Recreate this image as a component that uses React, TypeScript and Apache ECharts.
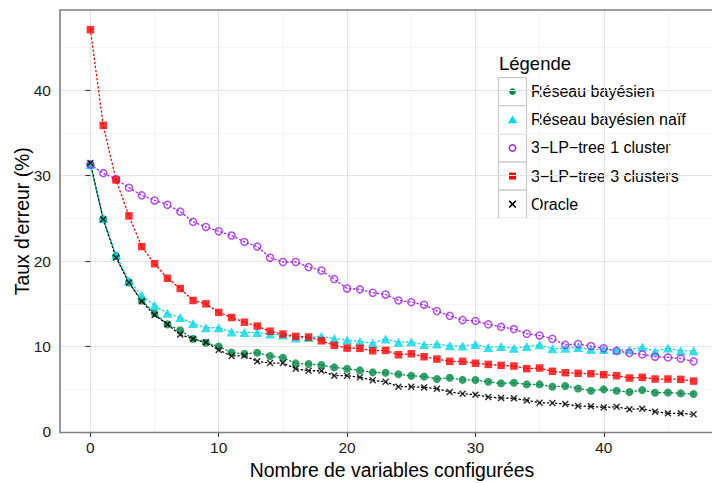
import React, { useEffect, useRef } from 'react';
import * as echarts from 'echarts';

const xValues = [0, 1, 2, 3, 4, 5, 6, 7, 8, 9, 10, 11, 12, 13, 14, 15, 16, 17, 18, 19, 20, 21, 22, 23, 24, 25, 26, 27, 28, 29, 30, 31, 32, 33, 34, 35, 36, 37, 38, 39, 40, 41, 42, 43, 44, 45, 46, 47];

const reseauBayesien = [31.3, 24.9, 20.6, 17.5, 15.4, 13.9, 12.6, 11.9, 10.9, 10.45, 10.0, 9.3, 9.15, 9.28, 8.9, 8.7, 8.03, 7.95, 7.84, 7.56, 7.41, 7.21, 6.98, 6.94, 6.75, 6.59, 6.5, 6.2, 6.35, 6.1, 6.09, 5.88, 5.69, 5.77, 5.57, 5.57, 5.3, 5.38, 5.1, 4.83, 4.99, 4.83, 4.68, 4.9, 4.6, 4.62, 4.52, 4.44];
const reseauNaif = [31.3, 25.0, 20.7, 17.7, 16.0, 14.8, 13.9, 13.4, 12.7, 12.2, 12.2, 11.7, 11.65, 11.66, 11.46, 11.35, 11.0, 11.07, 11.2, 10.95, 10.76, 10.6, 10.4, 10.9, 10.5, 10.56, 10.2, 10.3, 10.1, 10.06, 10.25, 9.9, 10.0, 9.8, 10.0, 10.2, 9.75, 9.8, 9.9, 9.67, 9.67, 9.6, 9.6, 9.94, 9.43, 9.82, 9.5, 9.5];
const lpTree1 = [31.3, 30.3, 29.6, 28.6, 27.7, 27.1, 26.6, 25.8, 24.6, 24.0, 23.5, 23.0, 22.25, 21.7, 20.4, 19.9, 19.9, 19.3, 18.9, 17.9, 16.8, 16.7, 16.3, 16.1, 15.4, 15.2, 14.9, 14.15, 13.6, 13.1, 13.0, 12.6, 12.3, 12.05, 11.5, 11.3, 10.9, 10.2, 10.3, 10.06, 9.8, 9.5, 9.24, 9.08, 8.81, 8.73, 8.6, 8.27];
const lpTree3 = [47.1, 35.9, 29.5, 25.3, 21.7, 19.7, 18.0, 16.8, 15.4, 15.0, 14.0, 13.4, 12.85, 12.4, 11.8, 11.46, 11.19, 11.11, 10.68, 10.14, 9.82, 9.79, 9.51, 9.55, 9.04, 9.16, 8.81, 8.54, 8.27, 8.27, 8.05, 7.91, 7.8, 7.72, 7.41, 7.49, 7.1, 6.94, 6.87, 6.83, 6.71, 6.59, 6.32, 6.4, 6.2, 6.2, 6.16, 5.96];
const oracle = [31.5, 24.9, 20.4, 17.5, 15.3, 13.7, 12.6, 11.4, 10.9, 10.5, 9.6, 8.9, 8.92, 8.27, 8.07, 8.07, 7.41, 7.17, 7.17, 6.59, 6.59, 6.4, 6.05, 5.88, 5.3, 5.3, 5.22, 5.07, 4.68, 4.48, 4.37, 4.09, 3.98, 3.94, 3.7, 3.43, 3.4, 3.27, 3.04, 3.0, 2.88, 2.96, 2.65, 2.73, 2.38, 2.18, 2.18, 2.07];

const xTicks = [0, 10, 20, 30, 40];
const yTicks = [0, 10, 20, 30, 40];

const seriesNames = ['Réseau bayésien', 'Réseau bayésien naïf', '3\u2212LP\u2212tree 1 cluster', '3\u2212LP\u2212tree 3 clusters', 'Oracle'];
const seriesValues = [reseauBayesien, reseauNaif, lpTree1, lpTree3, oracle];
const seriesColors = ['#008B45', '#00D8E4', '#A020F0', '#FF0000', '#000000'];

const FONT = 'Liberation Sans, Arial, Helvetica, sans-serif';
const CROSS = 'path://M0,1.5L1.5,0L5,3.5L8.5,0L10,1.5L6.5,5L10,8.5L8.5,10L5,6.5L1.5,10L0,8.5L3.5,5Z';

// The reference panel runs past the right edge of the 712px picture (cropped),
// so the chart canvas is a little wider than the visible window.
const CANVAS_W = 724;
const CANVAS_H = 483;
const GRID = { left: 60, top: 10, right: 0, bottom: 50.5 };

function pointStyle(i: number) {
  const c = seriesColors[i];
  switch (i) {
    case 0: return { symbol: 'circle', symbolSize: 8, itemStyle: { color: c } };
    case 1: return { symbol: 'triangle', symbolSize: [10, 9], itemStyle: { color: c } };
    case 2: return { symbol: 'circle', symbolSize: 7, itemStyle: { color: 'rgba(0,0,0,0)', borderColor: c, borderWidth: 1.5 } };
    case 3: return { symbol: 'rect', symbolSize: 7.5, itemStyle: { color: c } };
    default: return { symbol: CROSS, symbolSize: 7, itemStyle: { color: c } };
  }
}

function legendSymbol(i: number, cx: number, cy: number): any[] {
  const c = seriesColors[i];
  switch (i) {
    case 0: return [{ type: 'circle', shape: { cx, cy, r: 3.4 }, style: { fill: c } }];
    case 1: return [{ type: 'polygon', shape: { points: [[cx, cy - 4.2], [cx + 4.6, cy + 3.6], [cx - 4.6, cy + 3.6]] }, style: { fill: c } }];
    case 2: return [{ type: 'circle', shape: { cx, cy, r: 3.2 }, style: { fill: 'none', stroke: c, lineWidth: 1.5 } }];
    case 3: return [{ type: 'rect', shape: { x: cx - 3.5, y: cy - 3.5, width: 7, height: 7 }, style: { fill: c } }];
    default: return [
      { type: 'line', shape: { x1: cx - 3.3, y1: cy - 3.3, x2: cx + 3.3, y2: cy + 3.3 }, style: { stroke: c, lineWidth: 1.6 } },
      { type: 'line', shape: { x1: cx - 3.3, y1: cy + 3.3, x2: cx + 3.3, y2: cy - 3.3 }, style: { stroke: c, lineWidth: 1.6 } },
    ];
  }
}

export default function App() {
  const ref = useRef<HTMLDivElement>(null);
  useEffect(() => {
    if (!ref.current) return;
    const chart = echarts.init(ref.current, undefined, { renderer: 'svg' });

    const lineSeries = seriesValues.map((vals, i) => ({
      name: seriesNames[i],
      type: 'line',
      data: xValues.map((x, j) => [x, vals[j]]),
      showSymbol: false,
      symbol: 'none',
      z: 2,
      silent: true,
      lineStyle: { color: seriesColors[i], width: 1.3, type: [1.3, 2.8], cap: 'round' },
    }));
    const pointSeries = seriesValues.map((vals, i) => ({
      name: seriesNames[i],
      type: 'scatter',
      data: xValues.map((x, j) => [x, vals[j]]),
      z: 3 + i,
      silent: true,
      ...pointStyle(i),
    }));

    const plotW = CANVAS_W - GRID.left - GRID.right;
    const plotH = CANVAS_H - GRID.top - GRID.bottom;

    const legendGraphics: any[] = [
      { type: 'text', x: 499, y: 63, style: { text: 'Légende', fontSize: 18.5, fontFamily: FONT, fill: '#000', verticalAlign: 'middle', align: 'left' } },
    ];
    seriesNames.forEach((name, i) => {
      const cy = 91.6 + i * 28.15;
      legendGraphics.push({ type: 'rect', shape: { x: 498.5, y: cy - 14, width: 28, height: 28.15 }, style: { fill: '#fff', stroke: '#c9c9c9', lineWidth: 1.2 } });
      legendGraphics.push(...legendSymbol(i, 512.5, cy));
      legendGraphics.push({ type: 'text', x: 531, y: cy, style: { text: name, fontSize: 16, fontFamily: FONT, fill: '#000', verticalAlign: 'middle', align: 'left' } });
    });

    chart.setOption({
      animation: false,
      backgroundColor: '#fff',
      textStyle: { fontFamily: FONT },
      grid: { ...GRID, containLabel: false, outerBoundsMode: 'none' },
      xAxis: {
        type: 'value',
        min: -2.37,
        max: 49.37,
        splitNumber: 5,
        name: 'Nombre de variables configurées',
        nameLocation: 'middle',
        nameGap: 25,
        nameTextStyle: { fontSize: 19.4, color: '#000', fontFamily: FONT },
        axisLine: { show: false },
        axisTick: { show: true, customValues: xTicks, length: 5, lineStyle: { color: '#333', width: 1.1 } },
        axisLabel: {
          customValues: xTicks, margin: 7, fontSize: 15.5, color: '#1a1a1a', fontFamily: FONT,
          formatter: (v: number) => (xTicks.indexOf(v) >= 0 ? String(v) : ''),
        },
        splitLine: { show: true, lineStyle: { color: '#e3e3e3', width: 1 } },
        minorTick: { show: false, splitNumber: 2 },
        minorSplitLine: { show: true, lineStyle: { color: '#f5f5f5', width: 1.2 } },
      },
      yAxis: {
        type: 'value',
        min: -0.06,
        max: 49.4,
        splitNumber: 5,
        name: "Taux d'erreur (%)",
        nameLocation: 'middle',
        nameGap: 29,
        nameMoveOverlap: false,
        nameTextStyle: { fontSize: 19.4, color: '#000', fontFamily: FONT },
        axisLine: { show: false },
        axisTick: { show: true, customValues: yTicks, length: 5, lineStyle: { color: '#333', width: 1.1 } },
        axisLabel: {
          customValues: yTicks, margin: 9, fontSize: 15.5, color: '#1a1a1a', fontFamily: FONT,
          formatter: (v: number) => (yTicks.indexOf(v) >= 0 ? String(v) : ''),
        },
        splitLine: { show: true, lineStyle: { color: '#e3e3e3', width: 1 } },
        minorTick: { show: false, splitNumber: 2 },
        minorSplitLine: { show: true, lineStyle: { color: '#f5f5f5', width: 1.2 } },
      },
      graphic: [
        { type: 'rect', z: 100, silent: true, shape: { x: GRID.left, y: GRID.top, width: plotW, height: plotH }, style: { fill: 'none', stroke: '#7f7f7f', lineWidth: 1.6 } },
        { type: 'group', z: 101, silent: true, children: legendGraphics },
      ],
      series: [...lineSeries, ...pointSeries],
    });
    return () => chart.dispose();
  }, []);
  return (
    <div style={{ position: 'fixed', left: 0, top: 0, width: 712, height: CANVAS_H, overflow: 'hidden', background: '#fff' }}>
      <div ref={ref} style={{ width: CANVAS_W, height: CANVAS_H }} />
    </div>
  );
}
